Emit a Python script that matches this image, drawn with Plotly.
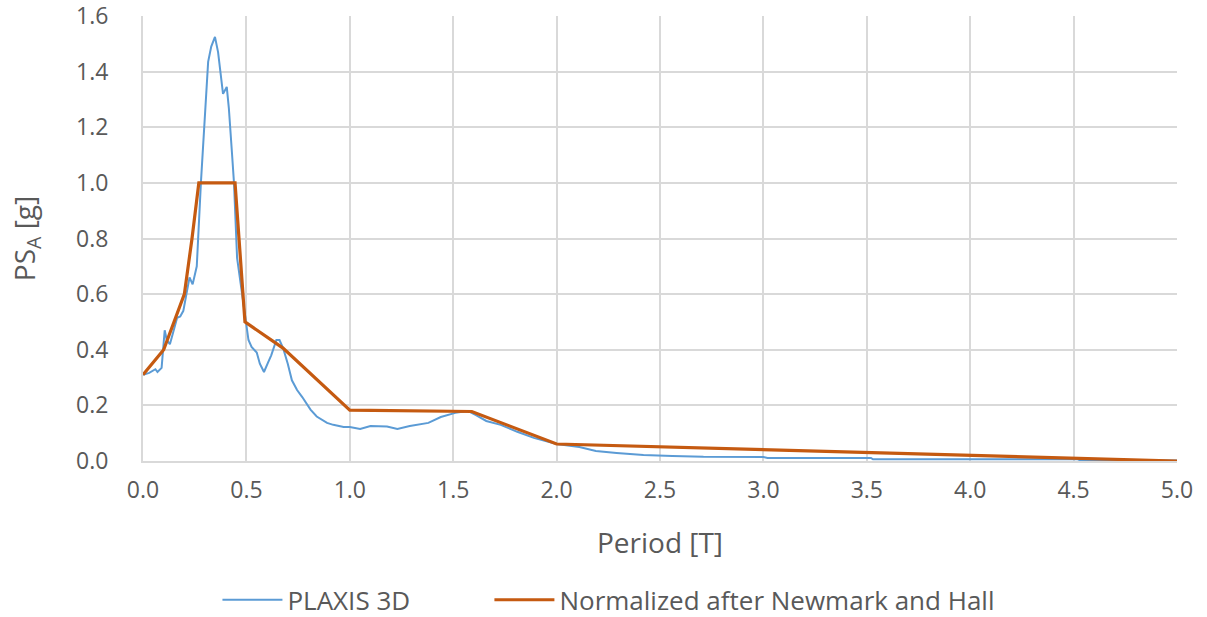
import plotly.graph_objects as go

# PLAXIS 3D response spectrum
plaxis_T = [0.0, 0.03, 0.06, 0.07, 0.09, 0.105, 0.115, 0.13, 0.145, 0.165, 0.18, 0.195,
            0.21, 0.225, 0.24, 0.26, 0.28, 0.30, 0.315, 0.33, 0.348, 0.363, 0.387, 0.405,
            0.415, 0.43, 0.44, 0.455, 0.47, 0.485, 0.498, 0.51, 0.525, 0.55, 0.565, 0.585,
            0.605, 0.62, 0.645, 0.66, 0.678, 0.70, 0.72, 0.745, 0.77, 0.81, 0.84, 0.89,
            0.92, 0.97, 1.0, 1.05, 1.10, 1.18, 1.23, 1.29, 1.38, 1.44, 1.51, 1.57, 1.61,
            1.66, 1.73, 1.81, 1.89, 1.98, 2.0, 2.11, 2.19, 2.29, 2.42, 2.56, 2.71, 3.0,
            3.02, 3.52, 3.53, 4.52, 4.53, 5.0]
plaxis_PSA = [0.31, 0.317, 0.33, 0.32, 0.335, 0.47, 0.435, 0.42, 0.46, 0.515, 0.52, 0.54,
              0.60, 0.66, 0.635, 0.70, 1.0, 1.23, 1.435, 1.49, 1.525, 1.47, 1.32, 1.345,
              1.27, 1.11, 1.0, 0.73, 0.65, 0.57, 0.50, 0.435, 0.41, 0.39, 0.35, 0.32,
              0.355, 0.38, 0.435, 0.435, 0.405, 0.35, 0.29, 0.255, 0.23, 0.185, 0.16, 0.137,
              0.13, 0.122, 0.122, 0.115, 0.126, 0.124, 0.115, 0.126, 0.137, 0.158, 0.173, 0.18, 0.165,
              0.144, 0.13, 0.105, 0.083, 0.065, 0.061, 0.05, 0.036, 0.029, 0.022, 0.018, 0.015, 0.014,
              0.011, 0.011, 0.006, 0.006, 0.003, 0.002]

# Normalized design spectrum after Newmark and Hall
nh_T = [0.0, 0.1, 0.2, 0.237, 0.27, 0.445, 0.493, 0.677, 1.0, 1.59, 2.0, 5.0]
nh_PSA = [0.31, 0.40, 0.60, 0.80, 1.0, 1.0, 0.50, 0.406, 0.183, 0.178, 0.061, 0.0]

x_ticks = [0, 0.5, 1.0, 1.5, 2.0, 2.5, 3.0, 3.5, 4.0, 4.5, 5.0]
y_ticks = [0, 0.2, 0.4, 0.6, 0.8, 1.0, 1.2, 1.4, 1.6]

FONT = "Open Sans"
TXT = "#595959"
GRID = "#d9d9d9"
GAP = "\u00a0" * 11

fig = go.Figure()
fig.add_trace(go.Scatter(x=plaxis_T, y=plaxis_PSA, mode="lines", name="PLAXIS 3D" + GAP,
                         line=dict(color="#5B9BD5", width=2)))
fig.add_trace(go.Scatter(x=nh_T, y=nh_PSA, mode="lines", name="Normalized after Newmark and Hall",
                         line=dict(color="#C55A11", width=3.2)))

fig.update_layout(
    width=1207, height=617,
    margin=dict(l=143, r=30, t=16, b=156, autoexpand=False),
    paper_bgcolor="white", plot_bgcolor="white",
    font=dict(family=FONT, color=TXT, size=23),
    showlegend=True,
    legend=dict(orientation="h", x=0.072, xanchor="left", y=-0.312, yanchor="middle",
                font=dict(family=FONT, size=26, color=TXT), itemwidth=60,
                traceorder="normal"),
    xaxis=dict(range=[0, 5.0], tickvals=x_ticks, ticktext=[f"{v:.1f}" for v in x_ticks],
               showgrid=True, gridcolor=GRID, gridwidth=2, zeroline=False,
               showline=True, linecolor=GRID, linewidth=2, ticks="", ticklabelstandoff=7,
               tickfont=dict(size=23), automargin=False, ticklabeloverflow="allow",
               title=dict(text="Period [T]", font=dict(size=28, color=TXT), standoff=30)),
    yaxis=dict(range=[0, 1.6], tickvals=y_ticks, ticktext=[f"{v:.1f}" for v in y_ticks],
               showgrid=True, gridcolor=GRID, gridwidth=2, zeroline=False,
               showline=True, linecolor=GRID, linewidth=2, ticks="", ticklabelstandoff=28,
               tickfont=dict(size=23), automargin=False, ticklabeloverflow="allow",
               title=dict(text="PS<sub>A</sub> [g]", font=dict(size=28, color=TXT), standoff=32)),
)

fig.write_html("out.html")
